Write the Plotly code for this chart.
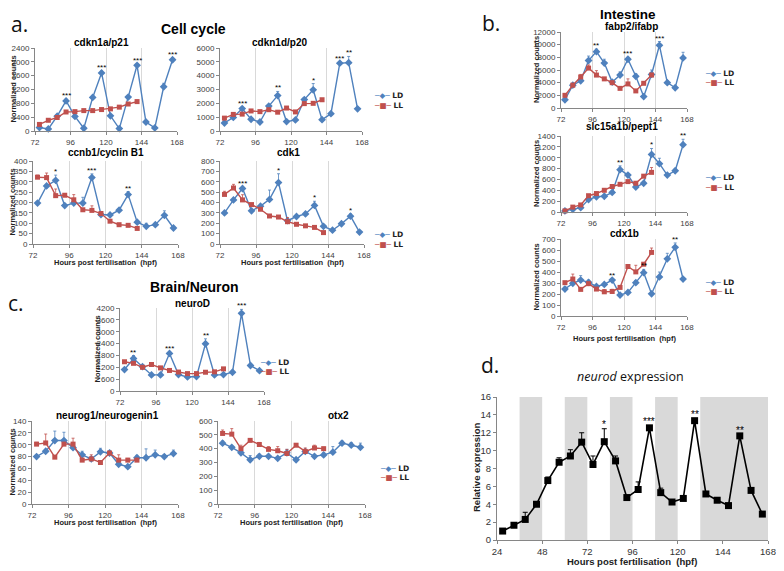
import plotly.graph_objects as go

# page body has an 8px margin: the figure is drawn 8px in from the top-left corner
OFF = 8
W, H = 784 - OFF, 571 - OFF
def fx(p): return (p - OFF) / W
def fy(p): return 1 - (p - OFF) / H

BLUE = "#4F81BD"
RED = "#C0504D"
FONT = "Liberation Sans, Arial, sans-serif"

# ---------------- data ----------------
X_LD = [75, 81, 87, 93, 99, 105, 111, 117, 123, 129, 135, 141, 147, 153, 159, 165]
X_LL = [75, 81, 87, 93, 99, 105, 111, 117, 123, 129, 135, 141]

cdkn1a_LD = [100, 60, 430, 870, 420, 80, 970, 1680, 440, 70, 980, 1900, 260, 90, 1280, 2060]
cdkn1a_LD_err = [20, 10, 40, 50, 30, 10, 60, 50, 30, 10, 50, 40, 20, 10, 100, 50]
cdkn1a_LL = [190, 310, 390, 550, 560, 590, 590, 620, 640, 690, 780, 850]
cdkn1a_LL_err = [30, 20, 30, 20, 20, 20, 20, 20, 30, 20, 30, 40]
cdkn1a_stars = {93: "***", 117: "***", 141: "***", 165: "***"}

cdkn1d_LD = [580, 980, 1620, 850, 650, 1800, 2560, 680, 800, 2270, 2980, 820, 1250, 4900, 4940, 1600]
cdkn1d_LD_err = [50, 80, 100, 80, 50, 100, 300, 80, 80, 150, 450, 80, 80, 100, 450, 80]
cdkn1d_LL = [930, 1200, 1220, 1450, 1400, 1540, 1360, 1660, 1380, 1980, 2000, 2260]
cdkn1d_LL_err = [60, 80, 60, 60, 60, 80, 60, 80, 60, 80, 80, 80]
cdkn1d_stars = {87: "***", 111: "**", 135: "*", 153: "***", 159: "**"}

ccnb1_LD = [197, 280, 307, 185, 197, 197, 320, 142, 140, 163, 238, 105, 85, 93, 138, 77]
ccnb1_LD_err = [5, 5, 25, 5, 5, 28, 18, 5, 5, 5, 15, 5, 15, 5, 22, 3]
ccnb1_LL = [322, 320, 233, 235, 213, 165, 162, 147, 110, 93, 90, 75]
ccnb1_LL_err = [10, 22, 32, 5, 25, 5, 22, 5, 5, 5, 3, 3]
ccnb1_stars = {87: "*", 111: "***", 135: "**"}

cdk1_LD = [300, 425, 535, 320, 365, 430, 592, 225, 265, 290, 372, 170, 133, 195, 268, 115]
cdk1_LD_err = [10, 15, 15, 10, 10, 90, 85, 10, 10, 10, 40, 10, 5, 10, 22, 10]
cdk1_LL = [478, 540, 425, 380, 335, 270, 260, 215, 190, 175, 160, 110]
cdk1_LL_err = [30, 35, 50, 10, 10, 10, 10, 40, 10, 10, 10, 5]
cdk1_stars = {87: "***", 111: "*", 135: "*", 159: "*"}

fabp2_LD = [1300, 3600, 4300, 7500, 8900, 7100, 4100, 5200, 7700, 5000, 1800, 5300, 9900, 4000, 3200, 7900]
fabp2_LD_err = [200, 300, 300, 700, 400, 600, 300, 500, 300, 400, 200, 700, 600, 300, 200, 900]
fabp2_LL = [2000, 3600, 4900, 6300, 5200, 4600, 4000, 3100, 3800, 2700, 3900, 5200]
fabp2_LL_err = [200, 300, 400, 500, 700, 200, 200, 200, 800, 200, 200, 300]
fabp2_stars = {99: "**", 123: "***", 147: "***"}

slc15a1b_LD = [20, 50, 80, 230, 280, 290, 360, 780, 680, 460, 530, 1060, 890, 680, 760, 1240]
slc15a1b_LD_err = [10, 10, 20, 20, 20, 20, 20, 70, 30, 20, 30, 110, 100, 20, 30, 100]
slc15a1b_LL = [20, 90, 130, 300, 340, 400, 470, 510, 560, 530, 660, 730]
slc15a1b_LL_err = [10, 10, 20, 20, 20, 20, 20, 20, 20, 20, 30, 90]
slc15a1b_stars = {117: "**", 141: "*", 165: "**"}

cdx1b_LD = [245, 297, 327, 306, 269, 287, 327, 190, 214, 303, 394, 202, 355, 520, 624, 336]
cdx1b_LD_err = [20, 10, 40, 20, 10, 10, 10, 10, 10, 20, 30, 10, 45, 50, 40, 10]
cdx1b_LL = [303, 336, 242, 294, 245, 220, 223, 260, 450, 401, 471, 578]
cdx1b_LL_err = [10, 45, 10, 10, 10, 20, 20, 10, 10, 60, 15, 40]
cdx1b_stars = {111: "**", 135: "**", 159: "**"}

neuroD_LD = [1085, 1645, 1230, 814, 814, 1900, 830, 712, 730, 2390, 814, 830, 950, 3930, 1290, 1030]
neuroD_LD_err = [30, 150, 50, 30, 30, 80, 30, 30, 30, 250, 30, 30, 30, 200, 60, 30]
neuroD_LL = [1480, 1400, 1200, 1340, 1170, 1040, 960, 880, 880, 950, 970, 1120]
neuroD_LL_err = [60, 50, 40, 40, 40, 40, 40, 40, 40, 40, 40, 50]
neuroD_stars = {81: "**", 105: "***", 129: "**", 153: "***"}

neurog1_LD = [80, 89, 107, 107, 95, 83, 76, 88, 86, 67, 63, 78, 78, 83, 80, 85]
neurog1_LD_err = [2, 3, 16, 14, 3, 6, 3, 6, 2, 3, 2, 4, 15, 8, 3, 6]
neurog1_LL = [101, 103, 79, 101, 101, 74, 76, 70, 86, 74, 74, 74]
neurog1_LL_err = [3, 15, 3, 3, 10, 3, 7, 3, 2, 9, 3, 3]
neurog1_stars = {}

otx2_LD = [440, 410, 370, 320, 345, 345, 330, 370, 320, 380, 345, 355, 375, 440, 425, 410]
otx2_LD_err = [15, 10, 10, 30, 15, 10, 10, 25, 10, 15, 10, 15, 40, 15, 20, 30]
otx2_LL = [510, 505, 400, 460, 430, 395, 385, 365, 425, 380, 405, 400]
otx2_LL_err = [25, 40, 25, 10, 15, 20, 30, 30, 10, 25, 20, 10]
otx2_stars = {}

X_D = [27, 33, 39, 45, 51, 57, 63, 69, 75, 81, 87, 93, 99, 105, 111, 117, 123, 129, 135, 141, 147, 153, 159, 165]
neurod_expr = [1.0, 1.65, 2.3, 4.0, 6.65, 8.7, 9.4, 10.95, 8.45, 11.0, 8.85, 4.75, 5.65, 12.55, 5.3, 4.25,
               4.65, 13.35, 5.15, 4.45, 3.85, 11.65, 5.55, 2.9]
neurod_err = [0, 0.15, 0.8, 0.1, 0.4, 0.5, 0.7, 1.05, 0.95, 1.45, 0.55, 0.05, 0.85, 0.25, 0.5, 0.05,
              0.05, 0.15, 0.05, 0.05, 0.05, 0.15, 0.15, 0.1]
neurod_stars = {81: "*", 105: "***", 129: "**", 153: "**"}
dark_start = [36, 60, 84, 108, 132]
dark_end = [48, 72, 96, 120, 168]

# ---------------- panel layout (pixel boxes in the 784x571 picture) ----------------
panels = [
    ("cdkn1a/p21", cdkn1a_LD, cdkn1a_LD_err, cdkn1a_LL, cdkn1a_LL_err, cdkn1a_stars, 2400, 400, (35, 177, 48, 131), (101, 43), 13, None, None),
    ("cdkn1d/p20", cdkn1d_LD, cdkn1d_LD_err, cdkn1d_LL, cdkn1d_LL_err, cdkn1d_stars, 6000, 1000, (220, 362, 48, 131), (279, 43), None, None, (372, 96)),
    ("ccnb1/cyclin B1", ccnb1_LD, ccnb1_LD_err, ccnb1_LL, ccnb1_LL_err, ccnb1_stars, 400, 50, (33, 178, 161, 244), (106, 153), 12, 262.5, None),
    ("cdk1", cdk1_LD, cdk1_LD_err, cdk1_LL, cdk1_LL_err, cdk1_stars, 800, 100, (220, 364, 161, 244), (288, 153), None, 262.5, (372, 235)),
    ("fabp2/ifabp", fabp2_LD, fabp2_LD_err, fabp2_LL, fabp2_LL_err, fabp2_stars, 12000, 2000, (561, 687, 32, 108), (631, 27), 536, None, (703, 73)),
    ("slc15a1b/pept1", slc15a1b_LD, slc15a1b_LD_err, slc15a1b_LL, slc15a1b_LL_err, slc15a1b_stars, 1400, 200, (561, 687, 136, 212), (622, 126), 536, None, (703, 178)),
    ("cdx1b", cdx1b_LD, cdx1b_LD_err, cdx1b_LL, cdx1b_LL_err, cdx1b_stars, 700, 100, (561, 687, 239, 316), (624, 234), 536, 338.5, (703, 282)),
    ("neuroD", neuroD_LD, neuroD_LD_err, neuroD_LL, neuroD_LL_err, neuroD_stars, 4200, 600, (120, 264, 308, 391), (192, 303), 97, None, (258, 362)),
    ("neurog1/neurogenin1", neurog1_LD, neurog1_LD_err, neurog1_LL, neurog1_LL_err, neurog1_stars, 140, 20, (32, 178, 421, 504), (108, 415), 12, 522.5, None),
    ("otx2", otx2_LD, otx2_LD_err, otx2_LL, otx2_LL_err, otx2_stars, 600, 100, (218, 365, 421, 504), (338, 415), None, 522.5, (378, 468)),
]

fig = go.Figure()
annotations = []
shapes = []
layout = {}

tickfont = dict(family=FONT, size=8, color="#404040")


def note(px_x, px_y, text, font, angle=0, xanchor="center"):
    return dict(x=fx(px_x), y=fy(px_y), xref="paper", yref="paper", text=text, showarrow=False,
                xanchor=xanchor, yanchor="middle", textangle=angle, font=font)


for i, (name, ld, lde, ll, lle, stars, ymax, dtick, box, tpos, ytx, xty, leg) in enumerate(panels, start=1):
    xa, ya = f"x{i}", f"y{i}"
    x0, x1, yt, yb = box
    layout[f"xaxis{i}"] = dict(domain=[fx(x0), fx(x1)], range=[72, 168], tick0=72, dtick=24,
                               showgrid=True, gridcolor="#D9D9D9", gridwidth=1, zeroline=False,
                               showline=True, linecolor="#868686", linewidth=1, ticks="outside",
                               ticklen=3, tickcolor="#868686", tickfont=tickfont, anchor=ya, fixedrange=True,
                               automargin=False)
    layout[f"yaxis{i}"] = dict(domain=[fy(yb), fy(yt)], range=[0, ymax], tick0=0, dtick=dtick,
                               tickformat="d", showgrid=False, zeroline=False, showline=True,
                               linecolor="#868686", linewidth=1, ticks="outside", ticklen=3,
                               tickcolor="#868686", tickfont=tickfont, anchor=xa, fixedrange=True,
                               automargin=False)
    fig.add_trace(go.Scatter(x=X_LD, y=ld, xaxis=xa, yaxis=ya, mode="lines+markers", showlegend=False,
                             line=dict(color=BLUE, width=1.4), marker=dict(symbol="diamond", size=6, color=BLUE),
                             error_y=dict(type="data", array=lde, arrayminus=[0] * len(lde), symmetric=False,
                                          color=BLUE, thickness=0.8, width=1.5), cliponaxis=False))
    fig.add_trace(go.Scatter(x=X_LL, y=ll, xaxis=xa, yaxis=ya, mode="lines+markers", showlegend=False,
                             line=dict(color=RED, width=1.4), marker=dict(symbol="square", size=5, color=RED),
                             error_y=dict(type="data", array=lle, arrayminus=[0] * len(lle), symmetric=False,
                                          color=RED, thickness=0.8, width=1.5), cliponaxis=False))
    for sx, lab in stars.items():
        k = X_LD.index(sx)
        annotations.append(dict(x=sx, y=ld[k] + lde[k], xref=xa, yref=ya, text=lab, showarrow=False,
                                xanchor="center", yanchor="bottom", yshift=-3,
                                font=dict(family=FONT, size=8, color="black")))
    annotations.append(note(tpos[0], tpos[1], f"<b>{name}</b>", dict(family=FONT, size=10, color="black")))
    if ytx is not None:
        annotations.append(note(ytx, (yt + yb) / 2, "<b>Normalized counts</b>",
                                dict(family=FONT, size=7.5, color="#222"), angle=-90))
    if xty is not None:
        annotations.append(note((x0 + x1) / 2, xty, "<b>Hours post fertilisation  (hpf)</b>",
                                dict(family=FONT, size=7.5, color="#222")))
    if leg is not None:
        for j, (lab, col, sym) in enumerate([("LD", BLUE, "◆"), ("LL", RED, "■")]):
            annotations.append(note(leg[0], leg[1] + j * 9.5,
                                    f'<span style="color:{col}">─{sym}─</span> <b>{lab}</b>',
                                    dict(family="DejaVu Sans", size=7.5, color="#222"), xanchor="left"))

# ---------------- panel d ----------------
layout["xaxis11"] = dict(domain=[fx(497), fx(768)], range=[24, 168], tick0=24, dtick=24, showgrid=False,
                         zeroline=False, showline=True, linecolor="#868686", ticks="outside", ticklen=3,
                         tickcolor="#868686", tickfont=dict(family=FONT, size=9.5, color="#333"), anchor="y11",
                         fixedrange=True, automargin=False)
layout["yaxis11"] = dict(domain=[fy(540), fy(397)], range=[0, 16], tick0=0, dtick=2, showgrid=False,
                         zeroline=False, showline=True, linecolor="#868686", ticks="outside", ticklen=3,
                         tickcolor="#868686", tickfont=dict(family=FONT, size=9.5, color="#333"), anchor="x11",
                         fixedrange=True, automargin=False)
for s, e in zip(dark_start, dark_end):
    shapes.append(dict(type="rect", xref="x11", yref="y11 domain", x0=s, x1=e, y0=0, y1=1,
                       fillcolor="#D9D9D9", line=dict(width=0), layer="below"))
fig.add_trace(go.Scatter(x=X_D, y=neurod_expr, xaxis="x11", yaxis="y11", mode="lines+markers", showlegend=False,
                         line=dict(color="black", width=1.6), marker=dict(symbol="square", size=7, color="black"),
                         error_y=dict(type="data", array=neurod_err, arrayminus=[0] * len(neurod_err),
                                      symmetric=False, color="black", thickness=1, width=2.5), cliponaxis=False))
for sx, lab in neurod_stars.items():
    kk = X_D.index(sx)
    annotations.append(dict(x=sx, y=neurod_expr[kk] + neurod_err[kk], xref="x11", yref="y11", text=lab,
                            showarrow=False, xanchor="center", yanchor="bottom", yshift=-3,
                            font=dict(family=FONT, size=10, color="black")))
annotations += [
    note(630, 376, "<i>neurod</i> expression", dict(family="Open Sans, Liberation Sans, sans-serif", size=12.5, color="#111")),
    note(632, 561, "<b>Hours post fertilisation  (hpf)</b>", dict(family=FONT, size=9.5, color="#222")),
    note(476, 468, "<b>Relative expression</b>", dict(family=FONT, size=9.5, color="#222"), angle=-90),
]

# ---------------- headings and panel letters ----------------
annotations += [
    note(193, 29, "<b>Cell cycle</b>", dict(family=FONT, size=14, color="black")),
    note(628, 14, "<b>Intestine</b>", dict(family=FONT, size=13.5, color="black")),
    note(194, 287, "<b>Brain/Neuron</b>", dict(family=FONT, size=14, color="black")),
]
letter = dict(family="Open Sans, sans-serif", size=21, color="#111")
for t, (lx, ly) in [("a.", (19, 24)), ("b.", (491, 23)), ("c.", (16, 303)), ("d.", (490, 365))]:
    annotations.append(note(lx, ly, t, letter))

layout.update(dict(width=W, height=H, margin=dict(l=0, r=0, t=0, b=0, pad=0, autoexpand=False), autosize=False,
                   paper_bgcolor="white", plot_bgcolor="white", showlegend=False,
                   annotations=annotations, shapes=shapes))
fig.update_layout(**layout)
fig.write_html("out.html")
